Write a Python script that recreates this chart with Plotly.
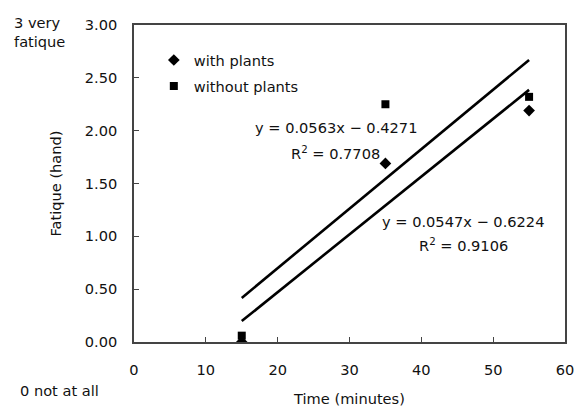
import plotly.graph_objects as go

# Measurements: fatigue of the hand after working time, with and without plants
time_min = [15, 35, 55]
with_plants = [0.00, 1.69, 2.19]
without_plants = [0.06, 2.25, 2.32]

# Linear trendlines (slope, intercept, R^2) as reported on the chart
fit_names = ["without plants", "with plants"]
fit_slope = [0.0563, 0.0547]
fit_intercept = [-0.4271, -0.6224]
fit_r2 = [0.7708, 0.9106]
fit_x = [15, 55]

x_ticks = [0, 10, 20, 30, 40, 50, 60]
y_ticks = [0.0, 0.5, 1.0, 1.5, 2.0, 2.5, 3.0]

FONT = "DejaVu Sans"
FS = 14.6
INK = "#111111"

fig = go.Figure()

# trendlines
for m, b in zip(fit_slope, fit_intercept):
    fig.add_trace(go.Scatter(
        x=fit_x, y=[m * x + b for x in fit_x], mode="lines",
        line=dict(color="black", width=2.6), showlegend=False, hoverinfo="skip"))

fig.add_trace(go.Scatter(
    x=time_min, y=with_plants, mode="markers", name="with plants",
    legendgroup="a",
    marker=dict(symbol="diamond", size=9, color="black")))
fig.add_trace(go.Scatter(
    x=time_min, y=without_plants, mode="markers", name="without plants",
    legendgroup="b",
    marker=dict(symbol="square", size=8, color="black")))

# equation labels
label_pos = [(28.1, 2.03, 1.79), (45.8, 1.14, 0.92)]
for (m, b, r2), (lx, ly1, ly2) in zip(zip(fit_slope, fit_intercept, fit_r2), label_pos):
    fig.add_annotation(x=lx, y=ly1, xref="x", yref="y", showarrow=False,
                       text=f"y = {m:.4f}x \u2212 {abs(b):.4f}",
                       font=dict(family=FONT, size=FS, color=INK))
    fig.add_annotation(x=lx, y=ly2, xref="x", yref="y", showarrow=False,
                       text=f"R<sup>2</sup> = {r2:.4f}",
                       font=dict(family=FONT, size=FS, color=INK))

# scale end notes
fig.add_annotation(x=-0.283, y=1.04, xref="paper", yref="paper", xanchor="left",
                   yanchor="top", align="left", showarrow=False,
                   text="3 very<br>fatique",
                   font=dict(family=FONT, size=FS, color=INK))
fig.add_annotation(x=-0.268, y=-0.12, xref="paper", yref="paper", xanchor="left",
                   yanchor="top", align="left", showarrow=False,
                   text="0 not at all",
                   font=dict(family=FONT, size=FS, color=INK))

axis_common = dict(
    showline=True, mirror=True, linecolor="#444", linewidth=1.6,
    ticks="inside", ticklen=5, tickcolor="#444", tickwidth=1,
    showgrid=False, zeroline=False, automargin=False,
    tickfont=dict(family=FONT, size=FS, color=INK),
)

fig.update_xaxes(range=[0, 60], tickvals=x_ticks, ticklabelstandoff=14,
                 title=dict(text="Time (minutes)", standoff=19,
                            font=dict(family=FONT, size=FS, color=INK)),
                 **axis_common)
fig.update_yaxes(range=[0, 3], tickvals=y_ticks, tickformat=".2f",
                 ticklabelstandoff=12,
                 title=dict(text="Fatique (hand)", standoff=20,
                            font=dict(family=FONT, size=FS, color=INK)),
                 **axis_common)

fig.update_layout(
    width=587, height=407,
    margin=dict(l=134, r=22, t=25, b=65),
    paper_bgcolor="white", plot_bgcolor="white",
    font=dict(family=FONT, size=FS, color=INK),
    showlegend=True,
    legend=dict(x=0.046, y=0.94, xanchor="left", yanchor="top",
                traceorder="grouped", tracegroupgap=4,
                bgcolor="rgba(0,0,0,0)", borderwidth=0,
                font=dict(family=FONT, size=FS, color=INK)),
)

fig.write_html("out.html")
